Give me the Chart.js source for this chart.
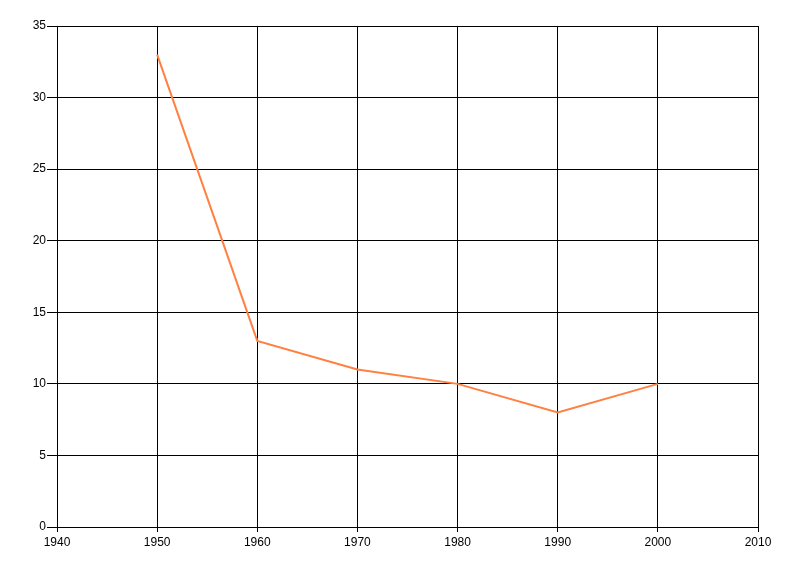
<!DOCTYPE html>
<html>
<head>
<meta charset="utf-8">
<script src="https://cdn.jsdelivr.net/npm/chart.js@4/dist/chart.umd.min.js"></script>
<style>
  html, body { margin: 0; padding: 0; background: #fff; }
  #wrap { width: 800px; height: 576px; }
</style>
</head>
<body>
<div id="wrap"><canvas id="chart" width="800" height="576"></canvas></div>
<script>
'use strict';

// Data
const years = [1950, 1960, 1970, 1980, 1990, 2000];
const values = [33, 13, 11, 10, 8, 10];

// Axis ranges
const xMin = 1940, xMax = 2010, xStep = 10;
const yMin = 0, yMax = 35, yStep = 5;

const points = years.map((y, i) => ({ x: y, y: values[i] }));

const ctx = document.getElementById('chart').getContext('2d');
new Chart(ctx, {
    type: 'line',
    data: {
        datasets: [{
            data: points,
            borderColor: '#ff8040',
            borderWidth: 2,
            pointRadius: 0,
            tension: 0,
            fill: false
        }]
    },
    options: {
        responsive: false,
        animation: false,
        layout: { padding: { top: 26, right: 42, left: 0, bottom: 0 } },
        plugins: { legend: { display: false }, tooltip: { enabled: false } },
        scales: {
            x: {
                type: 'linear',
                min: xMin,
                max: xMax,
                afterFit: s => { s.height = 49; },
                ticks: {
                    stepSize: xStep,
                    color: '#000',
                    padding: 3,
                    maxRotation: 0,
                    font: { family: 'Liberation Sans, Arial, sans-serif', size: 12 },
                    callback: v => String(v)
                },
                grid: { color: '#000', lineWidth: 1, tickLength: 5, tickColor: '#000' },
                border: { color: '#000', width: 1 }
            },
            y: {
                min: yMin,
                max: yMax,
                afterFit: s => { s.width = 57; },
                ticks: {
                    stepSize: yStep,
                    color: '#000',
                    padding: 1,
                    font: { family: 'Liberation Sans, Arial, sans-serif', size: 12 }
                },
                grid: { color: '#000', lineWidth: 1, tickLength: 10, tickColor: '#000' },
                border: { color: '#000', width: 1 }
            }
        }
    }
});
</script>
</body>
</html>
